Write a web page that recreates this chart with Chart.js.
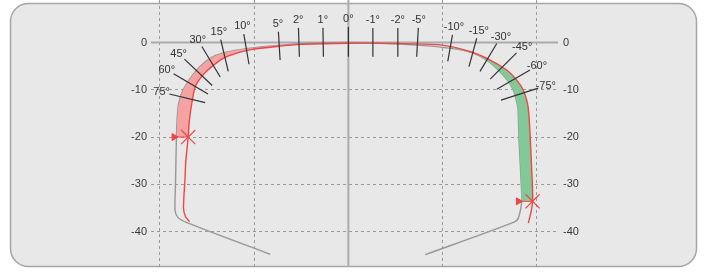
<!DOCTYPE html>
<html>
<head>
<meta charset="utf-8">
<script src="https://cdn.jsdelivr.net/npm/chart.js@4.4.1/dist/chart.umd.min.js"></script>
<style>
  html, body { margin: 0; padding: 0; background: #fff; }
</style>
</head>
<body>
<canvas id="profile" width="705" height="273"></canvas>
<script>
// reference (new) rail profile, left foot -> head -> right foot
const refX = [-16.6, -34.3, -36.2, -36.8, -36.7, -36.5, -36.2, -35.6, -34.7, -33.0, -31.5, -29.3, -26.6, -23.0, -17.0, -10.0, 0,
              10.0, 17.0, 23.0, 26.6, 29.3, 31.8, 33.7, 35.0, 35.6, 36.0, 36.2, 36.7, 36.8, 36.2, 35.4, 16.3];
const refY = [-44.8, -38.1, -37.0, -35.5, -30.0, -20.0, -14.0, -11.3, -9.3, -6.8, -5.1, -3.3, -2.2, -1.5, -0.8, -0.25, 0,
              -0.25, -0.7, -1.4, -2.3, -3.7, -5.8, -7.9, -10.0, -12.0, -14.0, -20.0, -30.0, -33.6, -36.8, -37.9, -44.9];

// measured profile
const measX = [-33.7, -34.6, -35.0, -34.7, -34.5, -34.0, -33.8, -33.4, -32.5, -30.8, -29.0, -26.5, -23.7, -20.9, -15.2, -10.0, 0,
               10.0, 19.5, 25.8, 30.1, 33.6, 35.7, 37.1, 38.0, 38.3, 38.6, 39.1, 39.1, 38.8, 38.2];
const measY = [-37.9, -36.8, -35.0, -29.1, -25.0, -20.0, -17.0, -13.9, -9.3, -6.8, -5.1, -3.3, -2.25, -1.55, -0.85, -0.4, -0.15,
               -0.2, -0.5, -1.9, -3.7, -5.8, -7.9, -10.0, -12.8, -15.0, -20.0, -31.2, -33.6, -35.8, -38.2];

// contact point markers
const markerX = [-34.0, 39.1];
const markerY = [-20.0, -33.6];

// angle scale ticks
const angleLabels = ['75°', '60°', '45°', '30°', '15°', '10°', '5°', '2°', '1°', '0°',
                     '-1°', '-2°', '-5°', '-10°', '-15°', '-30°', '-45°', '-60°', '-75°'];
const tickOuterX = [-38.0, -37.1, -34.8, -31.1, -27.1, -22.2, -14.85, -10.6, -5.4, 0, 5.2, 10.5, 14.85, 22.1, 27.25, 31.5, 35.7, 38.55, 40.3];
const tickOuterY = [-10.9, -6.6, -3.5, -0.85, 0.6, 1.8, 2.3, 3.1, 3.1, 3.3, 3.05, 3.1, 3.1, 1.6, 0.9, -0.2, -2.2, -5.8, -9.65];
const tickInnerX = [-30.4, -29.8, -28.9, -27.2, -25.5, -21.1, -14.5, -10.4, -5.3, 0, 5.2, 10.5, 14.5, 21.1, 25.6, 27.95, 30.1, 31.5, 32.4];
const tickInnerY = [-12.7, -10.9, -9.1, -7.3, -6.1, -4.6, -3.7, -3.0, -3.0, -3.0, -3.0, -3.0, -3.0, -4.0, -5.1, -6.1, -7.75, -9.9, -12.2];

const yTicks = [0, -10, -20, -30, -40];
const xGrid = [-40, -20, 20, 40];

const pts = (xs, ys) => xs.map((x, i) => ({ x, y: ys[i] }));
const ref = pts(refX, refY);
const meas = pts(measX, measY);

// worn area on the left, added material on the right
const leftWear = meas.filter(p => p.x <= -10 && p.y >= markerY[0])
  .concat(ref.filter(p => p.x <= -10 && p.y >= markerY[0]).reverse());
const rightGain = meas.filter(p => p.x >= 19 && p.y >= markerY[1])
  .concat(ref.filter(p => p.x >= 19 && p.y >= markerY[1]).reverse());

const RED = '#f04646';
const FONT = '11px "Liberation Sans", Arial, sans-serif';

const datasets = [
  { data: ref, borderColor: '#979797', borderWidth: 1.4, pointRadius: 0, tension: 0.25, order: 9 },
  { data: leftWear, fill: 'shape', backgroundColor: '#f4a2a2', borderWidth: 0, pointRadius: 0, order: 8 },
  { data: rightGain, fill: 'shape', backgroundColor: '#82c99a', borderWidth: 0, pointRadius: 0, order: 8 },
  { data: meas, borderColor: RED, borderWidth: 1.4, pointRadius: 0, tension: 0.25, order: 7 }
];

angleLabels.forEach((t, i) => {
  datasets.push({
    data: [{ x: tickOuterX[i], y: tickOuterY[i] }, { x: tickInnerX[i], y: tickInnerY[i] }],
    borderColor: '#333', borderWidth: 1.2, pointRadius: 0, order: 5
  });
});

markerX.forEach((mx, i) => {
  datasets.push({
    data: [{ x: mx - 3, y: markerY[i] }, { x: mx, y: markerY[i] }],
    borderColor: RED, borderWidth: 1, pointRadius: [4, 0], pointStyle: 'triangle',
    pointRotation: 90, pointBackgroundColor: RED, pointBorderColor: RED, order: 2
  });
  datasets.push({
    data: [{ x: mx, y: markerY[i] }], showLine: false,
    pointStyle: 'crossRot', pointRadius: 10, pointBorderColor: RED, pointBorderWidth: 1.2, order: 1
  });
});

const panel = {
  id: 'panel',
  beforeDraw(chart) {
    const ctx = chart.ctx;
    ctx.save();
    ctx.fillStyle = '#fff';
    ctx.fillRect(0, 0, chart.width, chart.height);
    ctx.beginPath();
    ctx.roundRect(10.5, 3.5, 686, 263, 18);
    ctx.fillStyle = '#e8e8e8';
    ctx.fill();
    ctx.lineWidth = 1.5;
    ctx.strokeStyle = '#a6a6a6';
    ctx.stroke();
    ctx.restore();
  }
};

// solid zero lines + y labels on both sides
const axesExtras = {
  id: 'axesExtras',
  beforeDatasetsDraw(chart) {
    const { ctx, chartArea, scales: { x, y } } = chart;
    const x0 = x.getPixelForValue(0), y0 = y.getPixelForValue(0);
    ctx.save();
    ctx.strokeStyle = '#ababab';
    ctx.lineWidth = 2;
    ctx.beginPath();
    ctx.moveTo(chartArea.left, y0); ctx.lineTo(chartArea.right, y0);
    ctx.moveTo(x0, chartArea.top); ctx.lineTo(x0, chartArea.bottom);
    ctx.stroke();
    ctx.font = FONT;
    ctx.fillStyle = '#3a3a3a';
    ctx.textBaseline = 'middle';
    yTicks.forEach(v => {
      const py = y.getPixelForValue(v);
      ctx.textAlign = 'right';
      ctx.fillText(String(v), chartArea.left - 4, py);
      ctx.textAlign = 'left';
      ctx.fillText(String(v), chartArea.right + 5, py);
    });
    ctx.restore();
  }
};

const angleText = {
  id: 'angleText',
  afterDatasetsDraw(chart) {
    const { ctx, scales: { x, y } } = chart;
    ctx.save();
    ctx.font = FONT;
    ctx.fillStyle = '#333';
    ctx.textAlign = 'center';
    ctx.textBaseline = 'middle';
    angleLabels.forEach((t, i) => {
      const ox = x.getPixelForValue(tickOuterX[i]), oy = y.getPixelForValue(tickOuterY[i]);
      const ix = x.getPixelForValue(tickInnerX[i]), iy = y.getPixelForValue(tickInnerY[i]);
      const len = Math.hypot(ox - ix, oy - iy);
      ctx.fillText(t, ox + (ox - ix) / len * 8, oy + (oy - iy) / len * 8);
    });
    ctx.restore();
  }
};

new Chart(document.getElementById('profile'), {
  type: 'line',
  data: { datasets },
  options: {
    responsive: false,
    animation: false,
    devicePixelRatio: 1,
    layout: { autoPadding: false, padding: { top: 0, bottom: 6, left: 0, right: 147 } },
    plugins: { legend: { display: false }, tooltip: { enabled: false } },
    scales: {
      x: {
        type: 'linear', min: -41.9, max: 44.5,
        afterBuildTicks: s => { s.ticks = xGrid.map(v => ({ value: v })); },
        afterFit: s => { s.height = 0; },
        ticks: { display: false },
        grid: { drawTicks: false, color: '#9a9a9a', lineWidth: 1 },
        border: { display: false, dash: [3, 3] }
      },
      y: {
        type: 'linear', min: -47.5, max: 9.0,
        afterBuildTicks: s => { s.ticks = yTicks.map(v => ({ value: v })); },
        afterFit: s => { s.width = 151; },
        ticks: { display: false },
        grid: {
          drawTicks: false, lineWidth: 1,
          color: c => c.tick && c.tick.value === 0 ? 'rgba(0,0,0,0)' : '#9a9a9a'
        },
        border: { display: false, dash: [3, 3] }
      }
    }
  },
  plugins: [panel, axesExtras, angleText]
});
</script>
</body>
</html>
